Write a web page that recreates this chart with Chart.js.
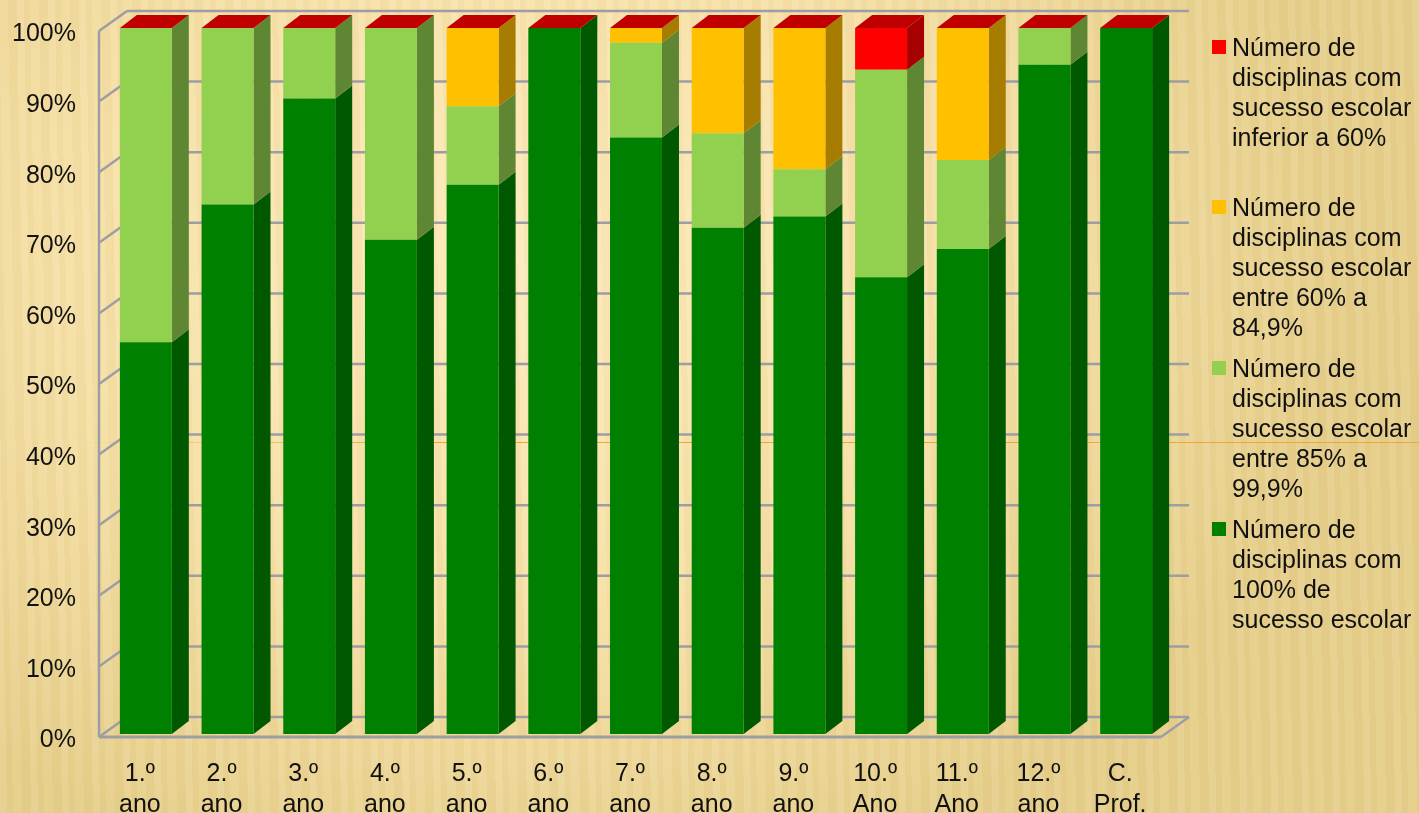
<!DOCTYPE html>
<html>
<head>
  <meta charset="UTF-8">
  <title>Sucesso escolar por ano</title>
  <script src="https://cdn.jsdelivr.net/npm/chart.js"></script>
  <style>
    html, body {
      margin: 0;
      padding: 0;
      width: 1419px;
      height: 813px;
      overflow: hidden;
    }
    #page {
      position: relative;
      width: 1419px;
      height: 813px;
      background:
        repeating-linear-gradient(89deg, rgba(255,255,255,0.07) 0 7px, rgba(160,120,40,0.035) 7px 13px, rgba(255,255,255,0.035) 13px 22px, rgba(160,120,40,0.04) 22px 31px),
        radial-gradient(ellipse 820px 640px at 520px 260px, #fdebbc 0%, #f6e0a6 55%, #e6cf8b 100%);
    }
    /* linha do tema, por tras do grafico */
    #themeLine {
      position: absolute;
      left: 90px;
      right: 0;
      top: 442px;
      height: 1px;
      background: linear-gradient(to right, rgba(240,165,50,0.1), #f0a535 25%, #eda83a);
    }
    canvas {
      position: absolute;
      left: 0;
      top: 0;
    }
    #legend {
      position: absolute;
      left: 1212px;
      top: 0;
      font-family: "Liberation Sans", sans-serif;
      font-size: 25px;
      line-height: 30px;
      color: #111;
    }
    .item {
      position: absolute;
      left: 0;
      width: 207px;
      padding-left: 20px;
      box-sizing: border-box;
      white-space: nowrap;
    }
    .swatch {
      position: absolute;
      left: 0;
      top: 8px;
      width: 14px;
      height: 14px;
    }
  </style>
</head>
<body>
<div id="page">
  <div id="themeLine"></div>
  <canvas id="chart" width="1419" height="813"></canvas>
  <div id="legend"></div>
</div>

<script>
  const categories = [
    ["1.º", "ano"], ["2.º", "ano"], ["3.º", "ano"], ["4.º", "ano"], ["5.º", "ano"],
    ["6.º", "ano"], ["7.º", "ano"], ["8.º", "ano"], ["9.º", "ano"], ["10.º", "Ano"],
    ["11.º", "Ano"], ["12.º", "ano"], ["C.", "Prof."]
  ];

  // percentagens
  const sucesso100 = [55.5, 75, 90, 70, 77.8, 100, 84.5, 71.7, 73.3, 64.7, 68.7, 94.8, 100];
  const sucesso85 = [44.5, 25, 10, 30, 11.1, 0, 13.4, 13.4, 6.7, 29.4, 12.6, 5.2, 0];
  const sucesso60 = [0, 0, 0, 0, 11.1, 0, 2.1, 14.9, 20, 0, 18.7, 0, 0];
  const sucessoInf = [0, 0, 0, 0, 0, 0, 0, 0, 0, 5.9, 0, 0, 0];

  const legendLines = [
    ["Número de", "disciplinas com", "sucesso escolar", "inferior a 60%"],
    ["Número de", "disciplinas com", "sucesso escolar", "entre 60% a", "84,9%"],
    ["Número de", "disciplinas com", "sucesso escolar", "entre 85% a", "99,9%"],
    ["Número de", "disciplinas com", "100% de", "sucesso escolar"]
  ];
  const legendColors = ["#FF0000", "#FFC000", "#92D050", "#008000"];
  const legendTops = [32, 192, 353, 514];

  const fontName = '"Liberation Sans", sans-serif';
  const gridColor = "#9d9da4";
  const topColor = "#C00000";

  // profundidade do falso 3D
  const wallDx = 28, wallDy = -20;
  const barDx = 17, barDy = -13;
  const wallShiftY = -3.5;
  const shiftX = 6, shiftY = -6.5;

  function line(ctx, x1, y1, x2, y2) {
    ctx.beginPath();
    ctx.moveTo(x1, y1);
    ctx.lineTo(x2, y2);
    ctx.stroke();
  }

  function poly(ctx, pts, color) {
    ctx.fillStyle = color;
    ctx.beginPath();
    ctx.moveTo(pts[0][0], pts[0][1]);
    pts.slice(1).forEach(p => ctx.lineTo(p[0], p[1]));
    ctx.closePath();
    ctx.fill();
  }

  // paredes, grelha e faces laterais das barras
  const box3d = {
    id: "box3d",
    beforeDatasetsDraw(chart) {
      const ctx = chart.ctx;
      const x = chart.scales.x, y = chart.scales.y;
      const left = x.left, right = x.right;

      ctx.save();
      ctx.translate(0, wallShiftY);
      ctx.strokeStyle = gridColor;
      ctx.lineWidth = 2.5;
      y.ticks.forEach(t => {
        const py = y.getPixelForValue(t.value);
        line(ctx, left, py, left + wallDx, py + wallDy);
        line(ctx, left + wallDx, py + wallDy, right + wallDx, py + wallDy);
      });
      const base = y.getPixelForValue(0);
      line(ctx, left, y.getPixelForValue(100), left, base);
      line(ctx, right, base, right + wallDx, base + wallDy);
      ctx.lineWidth = 3;
      line(ctx, left, base, right, base);
      ctx.restore();

      // fica ativo ate ao afterDatasetsDraw, as barras ficam deslocadas
      ctx.save();
      ctx.translate(shiftX, shiftY);
      chart.data.datasets.forEach((ds, i) => {
        chart.getDatasetMeta(i).data.forEach((bar, j) => {
          if (!ds.data[j]) return;
          const xr = bar.x + bar.width / 2;
          poly(ctx, [
            [xr, bar.y], [xr + barDx, bar.y + barDy],
            [xr + barDx, bar.base + barDy], [xr, bar.base]
          ], ds.sideColor);
        });
      });
      const top = y.getPixelForValue(100);
      chart.getDatasetMeta(0).data.forEach(bar => {
        const xl = bar.x - bar.width / 2, xr = bar.x + bar.width / 2;
        poly(ctx, [
          [xl, top], [xl + barDx, top + barDy],
          [xr + barDx, top + barDy], [xr, top]
        ], topColor);
      });
    },
    afterDatasetsDraw(chart) {
      chart.ctx.restore();
    }
  };

  new Chart(document.getElementById("chart").getContext("2d"), {
    type: "bar",
    data: {
      labels: categories,
      datasets: [
        { label: legendLines[3].join(" "), data: sucesso100, backgroundColor: "#008000", sideColor: "#005800" },
        { label: legendLines[2].join(" "), data: sucesso85, backgroundColor: "#92D050", sideColor: "#5F8733" },
        { label: legendLines[1].join(" "), data: sucesso60, backgroundColor: "#FFC000", sideColor: "#A67D00" },
        { label: legendLines[0].join(" "), data: sucessoInf, backgroundColor: "#FF0000", sideColor: "#A60000" }
      ]
    },
    options: {
      responsive: false,
      animation: false,
      categoryPercentage: 1,
      barPercentage: 0.636,
      layout: { padding: { left: 0, right: 258, top: 34.5, bottom: 0 } },
      plugins: {
        legend: { display: false },
        tooltip: { enabled: false }
      },
      scales: {
        x: {
          stacked: true,
          grid: { display: false, drawTicks: false },
          border: { display: false },
          ticks: {
            color: "#111",
            padding: 18,
            maxRotation: 0,
            autoSkip: false,
            font: { family: fontName, size: 25, lineHeight: 1.24 }
          },
          afterFit: s => {
            s.height = 72.5;
            s.paddingLeft = 0;
            s.paddingRight = 0;
          }
        },
        y: {
          stacked: true,
          min: 0,
          max: 100,
          grid: { display: false, drawTicks: false },
          border: { display: false },
          ticks: {
            color: "#111",
            stepSize: 10,
            padding: 23,
            font: { family: fontName, size: 25 },
            callback: v => v + "%"
          },
          afterFit: s => {
            s.width = 99;
            s.paddingTop = 0;
            s.paddingBottom = 0;
          }
        }
      }
    },
    plugins: [box3d]
  });

  // legenda em HTML, com quebras de linha iguais as do original
  const legendBox = document.getElementById("legend");
  legendLines.forEach((lines, i) => {
    const item = document.createElement("div");
    item.className = "item";
    item.style.top = legendTops[i] + "px";
    item.innerHTML = `<span class="swatch" style="background:${legendColors[i]}"></span>` + lines.join("<br>");
    legendBox.appendChild(item);
  });
</script>
</body>
</html>
